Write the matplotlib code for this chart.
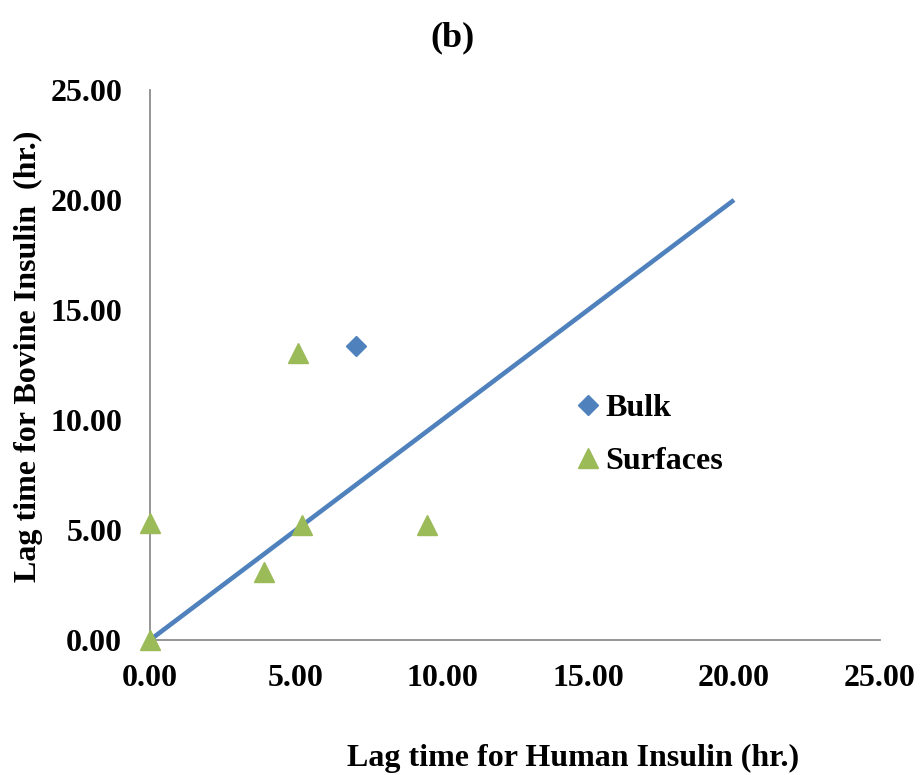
import matplotlib
matplotlib.use("Agg")
import matplotlib.pyplot as plt

plt.rcParams['font.family'] = ['Liberation Serif', 'DejaVu Serif']
plt.rcParams['font.weight'] = 'bold'

# Lag times (hr.)
bulk_human = [7.05]
bulk_bovine = [13.36]
surf_human = [0.0, 5.07, 5.21, 3.90, 9.49, 0.0]
surf_bovine = [5.32, 13.05, 5.23, 3.09, 5.23, 0.0]
ref_line = [0.0, 20.0]
ticks = [0, 5, 10, 15, 20, 25]
tick_labels = ["0.00", "5.00", "10.00", "15.00", "20.00", "25.00"]

W, H = 921, 775
fig = plt.figure(figsize=(W / 100, H / 100), dpi=100)
ax = fig.add_axes([150 / W, (H - 640) / H, (880 - 150) / W, (640 - 90) / H])

blue = '#4F81BD'
green = '#9BBB59'

ax.plot(ref_line, ref_line, color=blue, lw=3.3, solid_capstyle='butt', zorder=2)
ax.plot(bulk_human, bulk_bovine, linestyle='none', marker='D', ms=10,
        color=blue, label='Bulk', zorder=3)
ax.plot(surf_human, surf_bovine, linestyle='none', marker='^', ms=14,
        color=green, label='Surfaces', zorder=3)

ax.set_xlim(0, 25)
ax.set_ylim(0, 25)
ax.set_xticks(ticks)
ax.set_xticklabels(tick_labels)
ax.set_yticks(ticks)
ax.set_yticklabels(tick_labels)
ax.tick_params(length=0, labelsize=23)
ax.tick_params(axis='x', pad=17)
ax.tick_params(axis='y', pad=20)
for lab in ax.get_xticklabels() + ax.get_yticklabels():
    lab.set_fontweight('bold')

for side in ('top', 'right'):
    ax.spines[side].set_visible(False)
for side in ('left', 'bottom'):
    ax.spines[side].set_color('#8C8C8C')
    ax.spines[side].set_linewidth(1.3)
for line in ax.lines:
    line.set_clip_on(False)

fig.text(452 / W, 1 - 38 / H, '(b)', ha='center', va='center',
         fontsize=26, fontweight='bold')
fig.text(573 / W, 1 - 758 / H, 'Lag time for Human Insulin (hr.)',
         ha='center', va='center', fontsize=23, fontweight='bold')
fig.text(28 / W, 1 - 356 / H, 'Lag time for Bovine Insulin  (hr.)',
         ha='center', va='center', rotation=90, fontsize=23, fontweight='bold')

leg = ax.legend(loc='center left', bbox_to_anchor=(578 / W, 1 - 435 / H),
                bbox_transform=fig.transFigure, frameon=False, fontsize=23,
                handlelength=0.6, handletextpad=0.25, labelspacing=0.72,
                borderaxespad=0, borderpad=0)
for t in leg.get_texts():
    t.set_fontweight('bold')

fig.savefig('out.png', dpi=100)
